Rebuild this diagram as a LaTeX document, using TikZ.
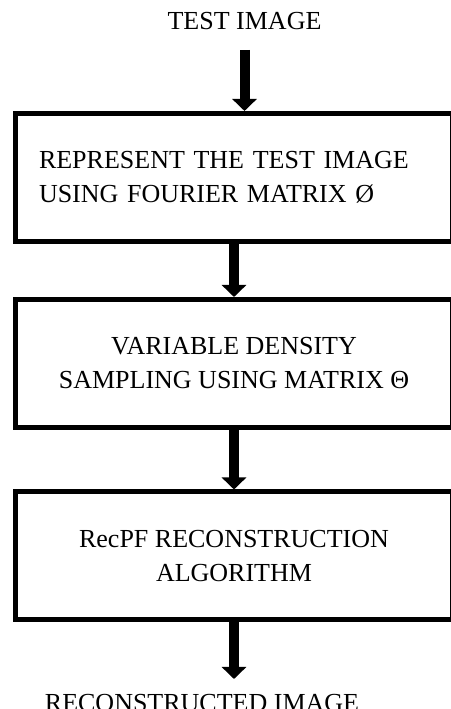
\documentclass[tikz,border=0pt]{standalone}
\usepackage{fontspec}
\setmainfont{Liberation Serif}
\usetikzlibrary{positioning,arrows.meta}

\tikzset{
    stage/.style={draw, line width=5pt, minimum width=437pt, minimum height=128pt,
        align=center, inner sep=0pt},
    flow/.style={line width=10pt, -{Triangle[width=24pt, length=12pt]}},
    label/.style={inner sep=0pt, anchor=base}
}

\begin{document}
\begin{tikzpicture}[x=1pt, y=1pt, node distance=53pt, font=\fontsize{26}{34}\selectfont]
        \useasboundingbox (0,0) rectangle (450,709);

        \node[label] (test) at (244.5,679) {TEST IMAGE};

        \node[stage, align=left, text width=390pt, inner xsep=23.5pt] (rep) at (234,531.5)
            {REPRESENT THE TEST IMAGE\\USING FOURIER MATRIX Ø};
        \node[stage] (var) [below=of rep] {VARIABLE DENSITY\\SAMPLING USING MATRIX Θ};
        \node[stage] (rec) [below=59.5pt of var] {RecPF RECONSTRUCTION\\ALGORITHM};

        \node[label] (out) at (202,-2) {RECONSTRUCTED IMAGE};
        \coordinate (end) at (234,30);

        \draw[flow] ([yshift=-20pt]test.base) -- (test.base |- rep.north);
        \draw[flow] (rep.south) -- (var.north);
        \draw[flow] (var.south) -- (rec.north);
        \draw[flow] (rec.south) -- (end);

    \end{tikzpicture}
\end{document}
